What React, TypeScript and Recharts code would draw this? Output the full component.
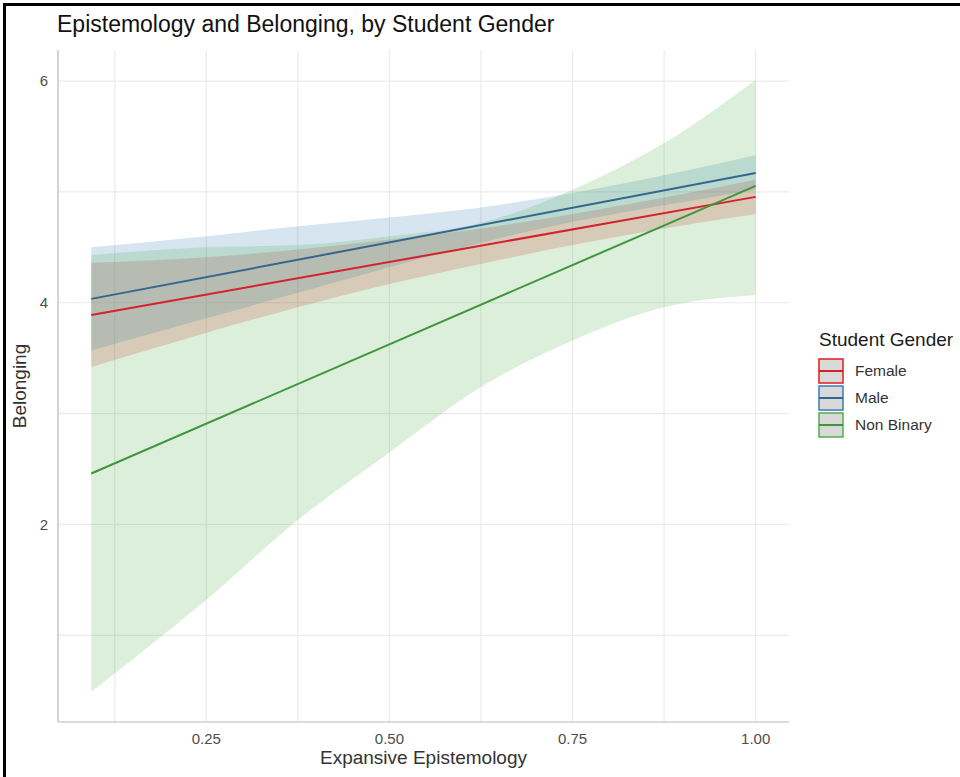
import {
  Area,
  CartesianGrid,
  ComposedChart,
  Label,
  Line,
  XAxis,
  YAxis,
} from "recharts";

const xs = [0.093, 0.25, 0.375, 0.5, 0.625, 0.75, 0.875, 1.0];

const femaleLow = [3.42, 3.73, 3.96, 4.17, 4.35, 4.52, 4.67, 4.8];
const femaleHigh = [4.36, 4.41, 4.48, 4.57, 4.67, 4.8, 4.95, 5.11];
const maleLow = [3.57, 3.86, 4.09, 4.32, 4.54, 4.73, 4.88, 5.02];
const maleHigh = [4.5, 4.6, 4.69, 4.77, 4.86, 4.99, 5.15, 5.33];
const nbLow = [0.49, 1.32, 2.04, 2.65, 3.24, 3.66, 3.96, 4.07];
const nbHigh = [4.43, 4.5, 4.52, 4.6, 4.72, 5.02, 5.44, 6.01];

// fitted lines: values at the two ends of the x range
const femaleFit = [3.89, 4.955];
const maleFit = [4.035, 5.17];
const nbFit = [2.46, 5.055];

const xTicks = [0.25, 0.5, 0.75, 1.0];
const yTicks = [2, 4, 6];
const xGrid = [0.125, 0.25, 0.375, 0.5, 0.625, 0.75, 0.875, 1.0];
const yGrid = [1, 2, 3, 4, 5, 6];

const groups = [
  { name: "Female", line: "#d3222c", fill: "#e41a1c" },
  { name: "Male", line: "#35668f", fill: "#377eb8" },
  { name: "Non Binary", line: "#3f963c", fill: "#4daf4a" },
];

const last = xs.length - 1;
const rows = xs.map((x, i) => ({
  x,
  fLo: femaleLow[i],
  fHi: femaleHigh[i],
  mLo: maleLow[i],
  mHi: maleHigh[i],
  nLo: nbLow[i],
  nHi: nbHigh[i],
  fFit: i === 0 ? femaleFit[0] : i === last ? femaleFit[1] : null,
  mFit: i === 0 ? maleFit[0] : i === last ? maleFit[1] : null,
  nFit: i === 0 ? nbFit[0] : i === last ? nbFit[1] : null,
}));

const font = "'Liberation Sans', Arial, Helvetica, sans-serif";
const tickStyle = { fill: "#4d4d4d", fontSize: 15, fontFamily: font };

function LegendBox() {
  return (
    <svg
      width={150}
      height={120}
      style={{ position: "absolute", left: 810, top: 325, overflow: "visible" }}
    >
      <text x={9} y={21} fontSize={19} fill="#1a1a1a" fontFamily={font}>
        Student Gender
      </text>
      {groups.map((g, i) => {
        const y = 34 + i * 27;
        return (
          <g key={g.name}>
            <rect
              x={9}
              y={y}
              width={24}
              height={24}
              fill="#d9d9d9"
              stroke={g.fill}
              strokeWidth={1.5}
            />
            <line x1={9} x2={33} y1={y + 12} y2={y + 12} stroke={g.line} strokeWidth={2} />
            <text x={45} y={y + 17} fontSize={15.5} fill="#333" fontFamily={font}>
              {g.name}
            </text>
          </g>
        );
      })}
    </svg>
  );
}

export default function App() {
  return (
    <div
      style={{
        position: "absolute",
        left: 0,
        top: 0,
        width: 960,
        height: 777,
        background: "#fff",
        fontFamily: font,
        overflow: "hidden",
      }}
    >
      <div style={{ position: "absolute", left: 3, top: 3, width: 960, height: 3, background: "#000" }} />
      <div style={{ position: "absolute", left: 3, top: 3, width: 3, height: 777, background: "#000" }} />
      <div
        style={{
          position: "absolute",
          left: 57,
          top: 13,
          fontSize: 23,
          lineHeight: "23px",
          color: "#111",
          whiteSpace: "nowrap",
        }}
      >
        Epistemology and Belonging, by Student Gender
      </div>

      <div style={{ position: "absolute", left: 0, top: 0 }}>
        <ComposedChart
          width={800}
          height={777}
          data={rows}
          margin={{ top: 50, right: 11, bottom: 0, left: 0 }}
        >
          <CartesianGrid
            stroke="#ebebeb"
            strokeWidth={1.2}
            horizontalValues={yGrid}
            verticalValues={xGrid}
          />
          <XAxis
            dataKey="x"
            type="number"
            domain={[0.0476, 1.0455]}
            allowDataOverflow
            ticks={xTicks}
            tickFormatter={(v: number) => v.toFixed(2)}
            tick={tickStyle}
            tickLine={false}
            tickMargin={5}
            axisLine={{ stroke: "#b8b8b8", strokeWidth: 1.2 }}
            height={55}
          >
            <Label
              value="Expansive Epistemology"
              position="insideBottom"
              offset={13}
              style={{ fontSize: 19, fill: "#333", fontFamily: font }}
            />
          </XAxis>
          <YAxis
            type="number"
            domain={[0.218, 6.28]}
            allowDataOverflow
            ticks={yTicks}
            tick={tickStyle}
            tickLine={false}
            tickMargin={4}
            axisLine={{ stroke: "#b8b8b8", strokeWidth: 1.2 }}
            width={58}
          >
            <Label
              value="Belonging"
              angle={-90}
              position="insideLeft"
              offset={19}
              style={{ fontSize: 19, fill: "#333", fontFamily: font, textAnchor: "middle" }}
            />
          </YAxis>

          <Area
            type="monotone"
            dataKey={(d: any) => [d.fLo, d.fHi]}
            fill={groups[0].fill}
            fillOpacity={0.2}
            stroke="none"
            isAnimationActive={false}
          />
          <Area
            type="monotone"
            dataKey={(d: any) => [d.mLo, d.mHi]}
            fill={groups[1].fill}
            fillOpacity={0.2}
            stroke="none"
            isAnimationActive={false}
          />
          <Area
            type="monotone"
            dataKey={(d: any) => [d.nLo, d.nHi]}
            fill={groups[2].fill}
            fillOpacity={0.2}
            stroke="none"
            isAnimationActive={false}
          />
          <Line
            dataKey="fFit"
            type="linear"
            stroke={groups[0].line}
            strokeWidth={2}
            dot={false}
            connectNulls
            isAnimationActive={false}
          />
          <Line
            dataKey="mFit"
            type="linear"
            stroke={groups[1].line}
            strokeWidth={2}
            dot={false}
            connectNulls
            isAnimationActive={false}
          />
          <Line
            dataKey="nFit"
            type="linear"
            stroke={groups[2].line}
            strokeWidth={2}
            dot={false}
            connectNulls
            isAnimationActive={false}
          />
        </ComposedChart>
      </div>

      <LegendBox />
    </div>
  );
}
